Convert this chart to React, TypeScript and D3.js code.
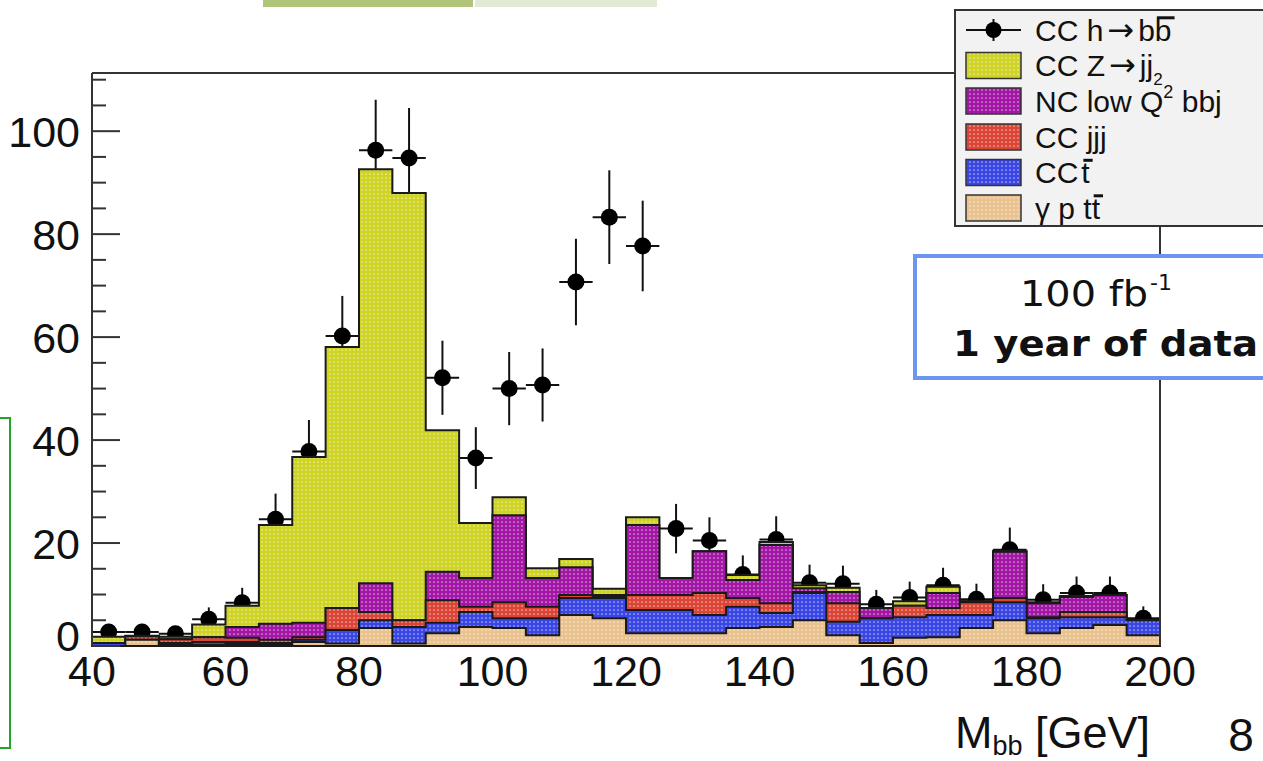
import React, { useLayoutEffect, useRef, useState } from "react";
import * as d3 from "d3";

// ---- data ----
const binLow = [40, 45, 50, 55, 60, 65, 70, 75, 80, 85, 90, 95, 100, 105, 110, 115, 120, 125, 130, 135, 140, 145, 150, 155, 160, 165, 170, 175, 180, 185, 190, 195];
const binWidth = 5;

const gammaPTT = [0.0, 1.2, 0.2, 0.2, 0.4, 0.2, 0.8, 0.5, 3.5, 0.5, 2.5, 3.7, 3.5, 2.1, 6.0, 5.4, 2.5, 2.5, 2.5, 3.5, 3.7, 5.0, 2.1, 0.6, 1.6, 1.7, 3.5, 5.0, 2.5, 3.5, 4.1, 2.1];
const ccTbar = [0.6, 0.0, 0.4, 0.6, 0.4, 0.4, 0.4, 2.6, 1.5, 3.2, 2.0, 2.9, 1.9, 3.3, 3.3, 3.9, 4.5, 4.5, 3.5, 4.1, 2.7, 5.3, 2.6, 4.8, 4.0, 4.3, 2.5, 3.5, 2.9, 2.1, 1.5, 2.9];
const ccJJJ = [0.0, 0.7, 0.7, 0.9, 0.8, 0.6, 0.5, 4.3, 1.6, 1.3, 4.4, 1.0, 3.1, 2.2, 0.6, 0.2, 2.9, 2.9, 4.3, 1.7, 1.9, 0.2, 3.6, 0.0, 2.2, 1.4, 2.5, 0.8, 0.2, 1.0, 1.0, 0.0];
const ncLowQ2 = [0.0, 0.0, 0.0, 0.0, 2.1, 3.1, 2.8, 0.0, 5.6, 0.0, 5.5, 5.6, 16.9, 5.6, 5.4, 0.4, 13.6, 3.3, 8.1, 3.5, 11.3, 0.7, 2.2, 2.0, 0.0, 2.9, 0.2, 9.0, 2.7, 2.9, 3.3, 0.0];
const ccZjj = [1.2, 0.1, 0.5, 2.5, 4.1, 19.2, 32.2, 50.7, 80.4, 83.0, 27.5, 10.7, 3.5, 1.9, 1.6, 1.2, 1.5, 0.0, 0.0, 1.0, 0.6, 0.6, 0.8, 0.0, 0.9, 1.2, 0.0, 0.2, 0.2, 0.2, 0.0, 0.0];

const signal = [2.7, 2.7, 2.4, 5.2, 8.4, 24.6, 37.8, 60.2, 96.3, 94.8, 52.1, 36.5, 50.0, 50.7, 70.7, 83.3, 77.7, 22.8, 20.5, 13.9, 20.7, 12.3, 12.1, 8.1, 9.4, 11.8, 9.1, 18.7, 9.0, 10.3, 10.3, 5.4];
const signalErr = [1.6, 1.6, 1.5, 2.3, 2.9, 5.0, 6.1, 7.8, 9.8, 9.7, 7.2, 6.0, 7.1, 7.1, 8.4, 9.1, 8.8, 4.8, 4.5, 3.7, 4.5, 3.5, 3.5, 2.8, 3.1, 3.4, 3.0, 4.3, 3.0, 3.2, 3.2, 2.3];

const xTicks = [40, 60, 80, 100, 120, 140, 160, 180, 200];
const yTicks = [0, 20, 40, 60, 80, 100];
const yMinorTicks = [5, 10, 15, 25, 30, 35, 45, 50, 55, 65, 70, 75, 85, 90, 95, 105, 110];

const seriesKeys = ["gpt", "cct", "ccjjj", "nc", "ccz"];
const seriesColors: Record<string, string> = {
  gpt: "#e9c28e",
  cct: "#3a46e6",
  ccjjj: "#dc4436",
  nc: "#a316a6",
  ccz: "#cfd324",
};

const FONT = "'Liberation Sans', Arial, Helvetica, sans-serif";
const COMIC = "'Comic Sans MS', 'DejaVu Sans', sans-serif";
const ARROW_FONT = "'DejaVu Sans', sans-serif";

// text with an overline drawn above the character at index `barIndex`
function BarText({ x, y, barIndex, children }: { x: number; y: number; barIndex: number; children: React.ReactNode }) {
  const ref = useRef<SVGTextElement>(null);
  const [bar, setBar] = useState<{ x: number; y: number; w: number } | null>(null);
  useLayoutEffect(() => {
    const el = ref.current;
    if (!el) return;
    try {
      const n = el.getNumberOfChars();
      const idx = Math.min(barIndex, n - 1);
      const r = el.getExtentOfChar(idx);
      setBar({ x: r.x, y: r.y, w: r.width });
    } catch (e) {
      // ignore
    }
  }, [barIndex]);
  return (
    <g>
      <text ref={ref} x={x} y={y} dy="0.36em">
        {children}
      </text>
      {bar && (
        <line x1={bar.x + 2} x2={bar.x + bar.w + 3} y1={bar.y + 4} y2={bar.y + 4} stroke="#111" strokeWidth={3} />
      )}
    </g>
  );
}

export default function App() {
  const W = 1263, H = 761;
  const x = d3.scaleLinear().domain([40, 200]).range([92, 1160]);
  const y = d3.scaleLinear().domain([0, 111.3]).range([646, 73]);

  const table = binLow.map((lo, i) => ({
    lo,
    gpt: gammaPTT[i],
    cct: ccTbar[i],
    ccjjj: ccJJJ[i],
    nc: ncLowQ2[i],
    ccz: ccZjj[i],
  }));
  const stacked = d3.stack<any>().keys(seriesKeys)(table);

  const stepPath = (tops: number[]) => {
    let p = `M${x(binLow[0])},${y(0)}`;
    tops.forEach((t, i) => {
      p += ` L${x(binLow[i])},${y(t)} L${x(binLow[i] + binWidth)},${y(t)}`;
    });
    p += ` L${x(binLow[binLow.length - 1] + binWidth)},${y(0)} Z`;
    return p;
  };

  const layersTopDown = [...stacked].reverse();
  const legendRows = [30, 65.5, 101, 137, 172.5, 208];

  return (
    <svg width={W} height={H} style={{ position: "absolute", left: 0, top: 0, background: "#fff" }} fontFamily={FONT}>
      <defs>
        {seriesKeys.map((k) => (
          <pattern key={k} id={`pat-${k}`} patternUnits="userSpaceOnUse" width={4} height={4}>
            <rect width={4} height={4} fill={seriesColors[k]} />
            <rect x={1} y={1.5} width={2} height={1.1} fill="#fff" opacity={0.55} />
          </pattern>
        ))}
      </defs>

      {/* slide decorations */}
      <rect x={263} y={0} width={210} height={7} fill="#b1c57a" />
      <rect x={475} y={0} width={182} height={7} fill="#e2e9d5" />
      <rect x={-2} y={418} width={12} height={330} fill="none" stroke="#22a52a" strokeWidth={2} />

      {/* data points (beneath the stack, as in the original) */}
      <g>
        {signal.map((v, i) => {
          const cx = x(binLow[i] + binWidth / 2);
          return (
            <g key={i}>
              <line x1={cx} x2={cx} y1={y(v + signalErr[i])} y2={y(Math.max(0, v - signalErr[i]))} stroke="#111" strokeWidth={2} />
              <line x1={x(binLow[i])} x2={x(binLow[i] + binWidth)} y1={y(v)} y2={y(v)} stroke="#111" strokeWidth={2} />
              <circle cx={cx} cy={y(v)} r={8.5} fill="#000" />
            </g>
          );
        })}
      </g>

      {/* stacked histogram */}
      <g>
        {layersTopDown.map((layer) => (
          <path
            key={layer.key}
            d={stepPath(layer.map((d) => d[1]))}
            fill={`url(#pat-${layer.key})`}
            stroke="#1a1a1a"
            strokeWidth={2}
          />
        ))}
      </g>

      {/* frame */}
      <g stroke="#333" strokeWidth={2} fill="none">
        <line x1={x(40)} x2={x(200)} y1={y(111.3)} y2={y(111.3)} />
        <line x1={x(200)} x2={x(200)} y1={y(111.3)} y2={y(0)} />
        <line x1={x(40)} x2={x(40)} y1={y(111.3)} y2={y(0)} />
      </g>

      {/* y axis ticks */}
      <g stroke="#333" strokeWidth={2}>
        {yTicks.map((t) => (
          <line key={t} x1={x(40)} x2={x(40) + 28} y1={y(t)} y2={y(t)} />
        ))}
        {yMinorTicks.map((t) => (
          <line key={t} x1={x(40)} x2={x(40) + 14} y1={y(t)} y2={y(t)} />
        ))}
      </g>
      <g fontSize={43} fill="#111" textAnchor="end">
        {yTicks.map((t) => (
          <text key={t} x={80} y={t === 0 ? y(t) - 10 : y(t)} dy="0.36em">
            {t}
          </text>
        ))}
      </g>
      <g fontSize={43} fill="#111" textAnchor="middle">
        {xTicks.map((t) => (
          <text key={t} x={x(t)} y={671} dy="0.36em">
            {t}
          </text>
        ))}
      </g>

      {/* axis title */}
      <text x={955} y={748} fontSize={45} fill="#111">
        M<tspan fontSize={27} dy={7}>bb</tspan>
        <tspan dy={-7}> [GeV]</tspan>
      </text>
      <text x={1241} y={751} fontSize={46} fill="#111" textAnchor="middle">8</text>

      {/* legend */}
      <g>
        <rect x={955} y={10} width={320} height={216} fill="#f2f2f2" stroke="#333" strokeWidth={2} />
        <g>
          <line x1={966} x2={1021} y1={legendRows[0]} y2={legendRows[0]} stroke="#111" strokeWidth={2} />
          <line x1={993.5} x2={993.5} y1={legendRows[0] - 11} y2={legendRows[0] + 11} stroke="#111" strokeWidth={2} />
          <circle cx={993.5} cy={legendRows[0]} r={8} fill="#000" />
        </g>
        {["ccz", "nc", "ccjjj", "cct", "gpt"].map((k, i) => (
          <rect key={k} x={966} y={legendRows[i + 1] - 13} width={55} height={26} fill={`url(#pat-${k})`} stroke="#333" strokeWidth={1.5} />
        ))}
        <g fontSize={30} fill="#111">
          <BarText x={1035} y={legendRows[0]} barIndex={6}>
            CC h<tspan fontFamily={ARROW_FONT} fontSize={32} dx={4}>→</tspan>
            <tspan dx={4}>bb</tspan>
          </BarText>
          <text x={1035} y={legendRows[1]} dy="0.36em">
            CC Z<tspan fontFamily={ARROW_FONT} fontSize={32} dx={4}>→</tspan>
            <tspan dx={4}>jj</tspan>
            <tspan fontSize={17} dy={9}>2</tspan>
          </text>
          <text x={1035} y={legendRows[2]} dy="0.36em">
            NC low Q<tspan fontSize={18} dy={-14}>2</tspan>
            <tspan dy={14}> bbj</tspan>
          </text>
          <text x={1035} y={legendRows[3]} dy="0.36em">CC jjj</text>
          <BarText x={1035} y={legendRows[4]} barIndex={2}>
            CC<tspan dx={3}>t</tspan>
          </BarText>
          <BarText x={1035} y={legendRows[5]} barIndex={5}>
            γ p tt
          </BarText>
        </g>
      </g>

      {/* luminosity box */}
      <g>
        <rect x={915} y={256} width={360} height={122} fill="#fff" stroke="#6b95ee" strokeWidth={4} />
        <text x={1020} y={306} fontSize={36} fill="#111" fontFamily={COMIC} textLength={128} lengthAdjust="spacingAndGlyphs">
          100 fb
        </text>
        <text x={1150} y={290} fontSize={22} fill="#111" fontFamily={COMIC}>-1</text>
        <text x={953} y={356} fontSize={36} fontWeight="bold" fill="#111" fontFamily={COMIC} textLength={305} lengthAdjust="spacingAndGlyphs">
          1 year of data
        </text>
      </g>
    </svg>
  );
}
